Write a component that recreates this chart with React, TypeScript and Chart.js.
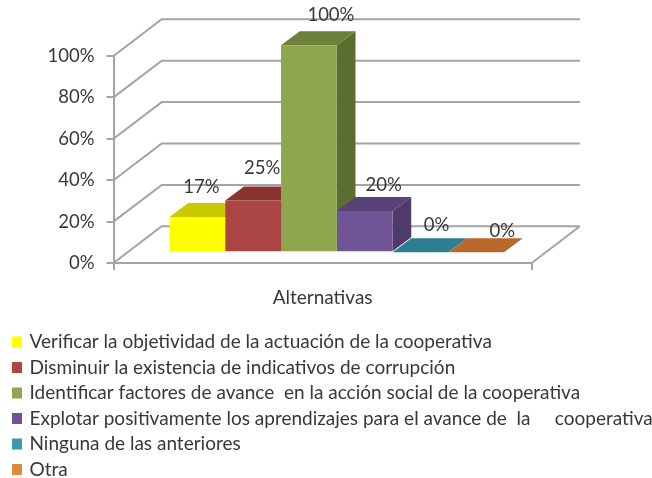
import React, { useEffect, useRef } from "react";
import { Chart, registerables } from "chart.js";

Chart.register(...registerables);

const categoryLabels = ["Alternativas"];
const seriesNames = [
  "Verificar la objetividad de la actuación de la cooperativa",
  "Disminuir la existencia de indicativos de corrupción",
  "Identificar factores de avance  en la acción social de la cooperativa",
  "Explotar positivamente los aprendizajes para el avance de  la     cooperativa",
  "Ninguna de las anteriores",
  "Otra",
];
const seriesValues = [17, 25, 100, 20, 0, 0];
const frontColors = ["#ffff00", "#ab4543", "#8ea64e", "#6f5596", "#3a91a8", "#e0873a"];
const topColors = ["#c9c900", "#8a3331", "#6b8038", "#57437a", "#2e7e92", "#b8682a"];
const sideColors = ["#a8a800", "#7a2d2b", "#5b6e2f", "#4d3b6a", "#266a7c", "#9a5722"];
const legendColors = ["#ffff00", "#b0443f", "#8ea64e", "#6f5596", "#3f97ad", "#e08a3c"];
const labelNudgeX = [4, 9, 22, 19, 16, 26];
const labelNudgeY = [-30, -33, -30, -26, -27, -21];

const FONT = "Lato, 'Liberation Sans', sans-serif";
const TEXT = "#383838";
const LINE = "#a4a4a4";
const WALL_DX = 48.2;
const WALL_DY = -36.7;
const BAR_DX = 14.2;
const BAR_DY = -10.7;
const DEPTH_DX = 18.7;
const DEPTH_DY = -14;

const poly = (ctx: CanvasRenderingContext2D, pts: number[][], fill: string) => {
  ctx.fillStyle = fill;
  ctx.beginPath();
  pts.forEach(([x, y], i) => (i ? ctx.lineTo(x, y) : ctx.moveTo(x, y)));
  ctx.closePath();
  ctx.fill();
};

const scene3d = {
  id: "scene3d",
  afterLayout(chart: any) {
    const lg = chart.legend;
    lg.left = 7.5;
    lg.top = 326;
    lg.right = 652;
    lg.bottom = 560;
    lg.width = 644.5;
    lg.height = 234;
  },
  beforeDatasetsDraw(chart: any) {
    const { ctx, scales, chartArea } = chart;
    const { left, right, bottom } = chartArea;
    ctx.save();
    ctx.strokeStyle = LINE;
    ctx.lineWidth = 2;
    ctx.beginPath();
    scales.y.ticks.forEach((t: any) => {
      const y = scales.y.getPixelForValue(t.value);
      ctx.moveTo(left, y);
      ctx.lineTo(left + WALL_DX, y + WALL_DY);
      ctx.lineTo(right + WALL_DX, y + WALL_DY);
    });
    ctx.moveTo(right, bottom);
    ctx.lineTo(right + WALL_DX, bottom + WALL_DY);
    ctx.stroke();
    seriesValues.forEach((_, i) => {
      const el = chart.getDatasetMeta(i).data[0];
      const x0 = el.x - el.width / 2 + BAR_DX;
      const x1 = el.x + el.width / 2 + BAR_DX;
      const yt = el.y + BAR_DY;
      const yb = el.base + BAR_DY;
      poly(ctx, [[x1, yt], [x1 + DEPTH_DX, yt + DEPTH_DY], [x1 + DEPTH_DX, yb + DEPTH_DY], [x1, yb]], sideColors[i]);
      poly(ctx, [[x0, yt], [x0 + DEPTH_DX, yt + DEPTH_DY], [x1 + DEPTH_DX, yt + DEPTH_DY], [x1, yt]], topColors[i]);
    });
    ctx.restore();
    ctx.save();
    ctx.translate(BAR_DX, BAR_DY);
  },
  afterDatasetsDraw(chart: any) {
    const { ctx } = chart;
    ctx.restore();
    ctx.save();
    ctx.font = `18.5px ${FONT}`;
    ctx.fillStyle = TEXT;
    ctx.textAlign = "center";
    ctx.textBaseline = "middle";
    seriesValues.forEach((v, i) => {
      const el = chart.getDatasetMeta(i).data[0];
      ctx.fillText(`${v}%`, el.x + BAR_DX + labelNudgeX[i], el.y + BAR_DY + labelNudgeY[i]);
    });
    ctx.restore();
  },
};

export default function App() {
  const ref = useRef<HTMLCanvasElement>(null);
  useEffect(() => {
    const chart = new Chart(ref.current!, {
      type: "bar",
      data: {
        labels: categoryLabels,
        datasets: seriesNames.map((name, i) => ({
          label: name,
          data: [seriesValues[i]],
          backgroundColor: frontColors[i],
          borderWidth: 0,
          categoryPercentage: 0.8,
          barPercentage: 1,
          clip: false as any,
        })),
      },
      options: {
        animation: false,
        responsive: false,
        layout: { padding: { left: 0, top: 56, right: 120.3, bottom: 0 } },
        plugins: {
          title: { display: false },
          tooltip: { enabled: false },
          legend: {
            position: "chartArea" as any,
            align: "start",
            labels: {
              color: TEXT,
              font: { family: FONT, size: 19 },
              boxWidth: 6,
              boxHeight: 7,
              padding: 6.5,
              generateLabels: () =>
                seriesNames.map((text, i) => ({
                  text,
                  fillStyle: legendColors[i],
                  strokeStyle: legendColors[i],
                  lineWidth: 4,
                  datasetIndex: i,
                  hidden: false,
                  fontColor: TEXT,
                })),
            },
          },
        },
        scales: {
          x: {
            afterFit: (s: any) => {
              s.height = 215;
            },
            grid: { drawOnChartArea: false, color: LINE, tickLength: 7, lineWidth: 2 },
            border: { color: LINE, width: 2 },
            ticks: { color: TEXT, font: { family: FONT, size: 19 }, padding: 16 },
          },
          y: {
            min: 0,
            max: 100,
            afterFit: (s: any) => {
              s.width = 113.5;
            },
            grid: { drawOnChartArea: false, color: LINE, tickLength: 7, lineWidth: 2 },
            border: { color: LINE, width: 2 },
            ticks: {
              stepSize: 20,
              color: TEXT,
              font: { family: FONT, size: 18.5 },
              padding: 12,
              callback: (v: any) => `${v}%`,
            },
          },
        },
      },
      plugins: [scene3d],
    });
    return () => chart.destroy();
  }, []);
  return (
    <div style={{ position: "absolute", left: 0, top: 0, width: 652, height: 478 }}>
      <canvas ref={ref} width={652} height={478} style={{ display: "block" }} />
    </div>
  );
}
